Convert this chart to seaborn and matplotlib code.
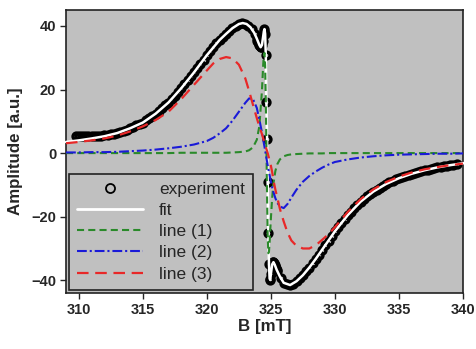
import matplotlib
matplotlib.use('Agg')
import matplotlib.pyplot as plt
from matplotlib.lines import Line2D
import seaborn as sns

# experiment points
field_exp = [
    309.75, 310.0, 310.25, 310.5, 310.75, 311.0, 311.25, 311.5, 311.75, 312.0,
    312.25, 312.5, 312.75, 313.0, 313.25, 313.5, 313.75, 314.0, 314.25, 314.5,
    314.75, 315.0, 315.25, 315.5, 315.75, 316.0, 316.25, 316.5, 316.75, 317.0,
    317.25, 317.5, 317.75, 318.0, 318.25, 318.5, 318.75, 319.0, 319.25, 319.5,
    319.75, 320.0, 320.25, 320.5, 320.75, 321.0, 321.25, 321.5, 321.75, 322.0,
    322.25, 322.5, 322.75, 323.0, 323.25, 323.5, 323.75,
    323.9, 323.95, 324.0, 324.05, 324.1, 324.15, 324.2, 324.25, 324.3, 324.35,
    324.4, 324.45, 324.5, 324.55, 324.6, 324.65, 324.7, 324.75, 324.8, 324.85,
    324.9, 324.95, 325.0, 325.05, 325.1, 325.15, 325.2, 325.25, 325.3, 325.35,
    325.4, 325.45, 325.5,
    325.75, 326.0, 326.25, 326.5, 326.75, 327.0, 327.25, 327.5, 327.75, 328.0,
    328.25, 328.5, 328.75, 329.0, 329.25, 329.5, 329.75, 330.0, 330.25, 330.5,
    330.75, 331.0, 331.25, 331.5, 331.75, 332.0, 332.25, 332.5, 332.75, 333.0,
    333.25, 333.5, 333.75, 334.0, 334.25, 334.5, 334.75, 335.0, 335.25, 335.5,
    335.75, 336.0, 336.25, 336.5, 336.75, 337.0, 337.25, 337.5, 337.75, 338.0,
    338.25, 338.5, 338.75, 339.0, 339.25, 339.5,
]
amp_exp = [
    5.3, 5.3, 5.4, 5.4, 5.4, 5.4, 5.4, 5.5, 5.5, 5.6,
    5.8, 5.9, 6.1, 6.3, 6.7, 7.0, 7.4, 7.8, 8.3, 8.7,
    9.2, 9.6, 10.3, 11.0, 11.7, 12.4, 13.2, 14.1, 15.0, 15.9,
    17.0, 18.1, 19.2, 20.4, 21.6, 22.9, 24.1, 25.4, 26.7, 28.1,
    29.4, 30.8, 32.1, 33.3, 34.5, 35.6, 36.6, 37.5, 38.4, 39.3,
    40.0, 40.6, 40.9, 40.7, 40.1, 39.1, 37.5,
    36.0, 35.4, 34.9, 34.4, 34.0, 33.6, 33.3, 33.4, 34.0, 35.2,
    36.8, 38.3, 39.0, 37.5, 31.0, 16.0, 4.5, -9.0, -25.0, -35.0,
    -39.5, -39.8, -38.0, -36.3, -35.0, -34.4, -34.3, -34.6, -35.1, -35.6,
    -36.2, -36.7, -37.2,
    -39.2, -40.8, -41.3, -41.5, -41.1, -40.3, -39.4, -38.4, -37.2, -36.0,
    -34.7, -33.3, -31.9, -30.4, -29.0, -27.5, -26.0, -24.6, -23.3, -22.0,
    -20.7, -19.5, -18.4, -17.3, -16.3, -15.3, -14.4, -13.6, -12.8, -12.1,
    -11.5, -10.9, -10.3, -9.7, -9.2, -8.7, -8.3, -7.9, -7.5, -7.2,
    -6.8, -6.5, -6.2, -5.9, -5.6, -5.4, -5.2, -4.9, -4.7, -4.5,
    -4.3, -4.1, -4.0, -3.8, -3.7, -3.5,
]

# fitted curve
field_fit = [
    309, 310, 311, 312, 313, 314, 315, 316, 317, 318, 319, 320, 321, 321.5,
    322, 322.5, 322.8, 323.1, 323.4, 323.7, 323.9, 324.1, 324.2, 324.3, 324.4,
    324.45, 324.5, 324.55, 324.6, 324.65, 324.7, 324.75, 324.8, 324.85, 324.9,
    324.95, 325.0, 325.1, 325.2, 325.3, 325.45, 325.7, 326.0, 326.5, 327.0,
    327.5, 328, 328.5, 329, 329.5, 330, 331, 332, 333, 334, 335, 336, 337,
    338, 339, 340, 340.5,
]
amp_fit = [
    3.5, 4.0, 4.6, 5.3, 6.3, 7.8, 9.6, 12.4, 15.9, 20.4, 25.4, 30.8, 35.6, 37.5,
    39.3, 40.6, 40.9, 40.6, 39.6, 37.8, 36.0, 34.0, 33.3, 34.0, 36.8,
    38.3, 39.0, 37.5, 31.0, 16.0, 4.5, -9.0, -25.0, -35.0, -39.5,
    -39.8, -38.0, -35.0, -34.3, -35.1, -36.7, -38.8, -40.8, -41.5, -40.3,
    -38.4, -36.0, -33.3, -30.4, -27.5, -24.6, -19.5, -15.3, -12.1, -9.7, -7.9, -6.5, -5.4,
    -4.5, -3.8, -3.2, -2.9,
]

# component lines
field_lines = [
    309, 310, 311, 312, 313, 314, 315, 316, 317, 318, 319, 320,
    320.5, 321, 321.5, 322, 322.5, 323,
    323.3, 323.6, 323.9, 324.1, 324.3,
    324.4, 324.45, 324.5, 324.55, 324.6, 324.65, 324.7, 324.75, 324.8, 324.85, 324.9,
    325.0, 325.1, 325.2, 325.35, 325.5, 325.7,
    326.0, 326.3, 326.6, 327.0, 327.5,
    328, 328.5, 329, 329.5, 330,
    331, 332, 333, 334, 335, 336, 337, 338, 339, 340,
]
line1 = [
    0, 0, 0, 0, 0, 0, 0, 0, 0, 0.1, 0.1, 0.1,
    0.1, 0.1, 0.1, 0.2, 0.3, 0.5,
    0.9, 1.8, 4.2, 8.5, 19.5,
    28.0, 30.8, 31.5, 27.5, 17.0, 2.0, -13.5, -26.0, -31.5, -31.0, -28.0,
    -20.5, -14.0, -9.5, -5.6, -3.5, -2.0,
    -1.0, -0.6, -0.4, -0.3, -0.2,
    -0.1, -0.1, -0.1, 0, 0,
    0, 0, 0, 0, 0, 0, 0, 0, 0, 0,
]
line2 = [
    0.2, 0.2, 0.3, 0.3, 0.4, 0.6, 0.8, 1.1, 1.5, 2.0, 2.7, 3.8,
    4.8, 6.2, 7.8, 10.2, 13.0, 15.8,
    17.2, 17.0, 14.2, 10.5, 6.5,
    4.3, 3.1, 2.0, 0.8, -0.3, -1.5, -2.7, -3.8, -5.0, -6.0, -7.0,
    -9.0, -10.8, -12.3, -14.2, -15.6, -16.8,
    -17.3, -16.0, -14.0, -11.5, -9.0,
    -7.2, -5.8, -4.6, -3.6, -2.8,
    -2.0, -1.4, -1.0, -0.7, -0.5, -0.4, -0.3, -0.2, -0.2, -0.1,
]
line3 = [
    3.1, 3.5, 4.0, 4.6, 5.5, 6.8, 8.4, 10.4, 13.0, 17.0, 21.5, 26.0,
    28.2, 29.6, 30.2, 29.8, 27.8, 23.5,
    19.5, 15.2, 11.0, 8.3, 6.0,
    4.6, 3.9, 3.3, 2.6, 2.0, 1.3, 0.7, 0.0, -0.8, -1.6, -2.4,
    -4.0, -6.0, -8.5, -11.5, -14.0, -17.5,
    -21.5, -25.0, -27.5, -29.2, -30.0,
    -30.0, -29.0, -27.3, -25.5, -23.3,
    -18.5, -14.5, -11.4, -9.1, -7.4, -6.1, -5.1, -4.4, -3.8, -3.3,
]

legend_labels = ['experiment', 'fit', 'line (1)', 'line (2)', 'line (3)']

sns.set_style('ticks')
plt.rcParams['font.family'] = ['Liberation Sans', 'DejaVu Sans']

fig = plt.figure(figsize=(4.77, 3.49), dpi=100)
ax = fig.add_axes([0.1384, 0.1605, 0.8322, 0.8108])
ax.set_facecolor('#c0c0c0')

green = '#2a8a2a'
blue = '#1a1ad8'
red = '#e82828'
ls1 = (0, (3.4, 2.0))
ls2 = (0, (4.7, 1.4, 1.0, 1.4))
ls3 = (0, (5.2, 3.0))
ms, mew = 5.0, 2.4

sns.lineplot(x=field_exp, y=amp_exp, ax=ax, estimator=None, sort=False,
             color='black', linestyle='none', marker='o', markersize=ms,
             markerfacecolor='none', markeredgecolor='black',
             markeredgewidth=mew, legend=False, zorder=2)
sns.lineplot(x=field_fit, y=amp_fit, ax=ax, estimator=None, sort=False,
             color='white', linewidth=1.8, clip_on=False, legend=False, zorder=3)
sns.lineplot(x=field_lines, y=line1, ax=ax, estimator=None, sort=False,
             color=green, linewidth=1.5, linestyle=ls1, legend=False, zorder=4)
sns.lineplot(x=field_lines, y=line2, ax=ax, estimator=None, sort=False,
             color=blue, linewidth=1.5, linestyle=ls2, legend=False, zorder=4)
sns.lineplot(x=field_lines, y=line3, ax=ax, estimator=None, sort=False,
             color=red, linewidth=1.6, linestyle=ls3, legend=False, zorder=4)

ax.set_xlim(309, 340)
ax.set_ylim(-44, 45)
ax.set_xticks([310, 315, 320, 325, 330, 335, 340])
ax.set_yticks([-40, -20, 0, 20, 40])
ax.tick_params(direction='out', length=4, width=1, labelsize=10.5, pad=3)
for lab in ax.get_xticklabels() + ax.get_yticklabels():
    lab.set_fontweight('bold')
for sp in ax.spines.values():
    sp.set_linewidth(1.2)
    sp.set_color('#222222')

ax.set_xlabel('B [mT]', fontsize=12.2, fontweight='bold', labelpad=2)
ax.set_ylabel('Amplitude [a.u.]', fontsize=12.2, fontweight='bold', labelpad=6)

handles = [
    Line2D([], [], linestyle='none', marker='o', markersize=6.5,
           markerfacecolor='none', markeredgecolor='black', markeredgewidth=1.3),
    Line2D([], [], color='white', linewidth=2),
    Line2D([], [], color=green, linewidth=1.5, linestyle=ls1),
    Line2D([], [], color=blue, linewidth=1.5, linestyle=ls2),
    Line2D([], [], color=red, linewidth=1.6, linestyle=ls3),
]
leg = ax.legend(handles, legend_labels, loc='lower left', fontsize=12.5,
                frameon=True, fancybox=False, facecolor='#c0c0c0',
                edgecolor='#222222', framealpha=1, handlelength=3.8,
                handletextpad=0.9, labelspacing=0.35, borderpad=0.45,
                borderaxespad=0.2)
leg.get_frame().set_linewidth(1.2)
leg.set_zorder(5)

fig.savefig('out.png', dpi=100, facecolor='white')
